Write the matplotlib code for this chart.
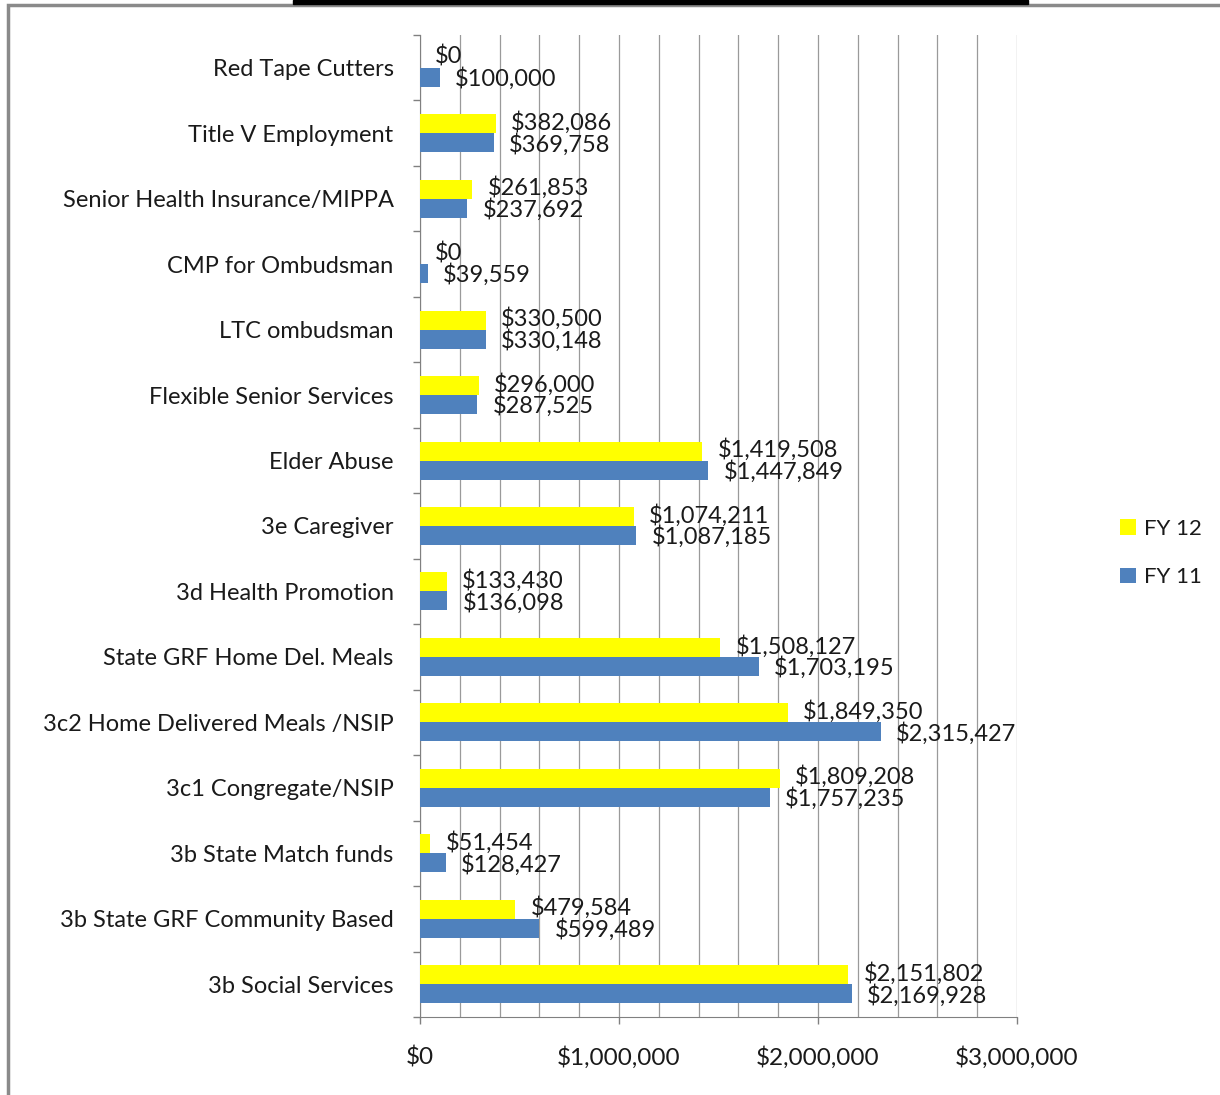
import numpy as np
import matplotlib
matplotlib.use('Agg')
import matplotlib.pyplot as plt
from matplotlib.patches import Rectangle
from matplotlib.ticker import FuncFormatter

categories = ['Red Tape Cutters', 'Title V Employment', 'Senior Health Insurance/MIPPA',
              'CMP for Ombudsman', 'LTC ombudsman', 'Flexible Senior Services',
              'Elder Abuse', '3e Caregiver', '3d Health Promotion',
              'State GRF Home Del. Meals', '3c2 Home Delivered Meals /NSIP',
              '3c1 Congregate/NSIP', '3b State Match funds',
              '3b State GRF Community Based', '3b Social Services']
fy12 = [0, 382086, 261853, 0, 330500, 296000, 1419508, 1074211, 133430,
        1508127, 1849350, 1809208, 51454, 479584, 2151802]
fy11 = [100000, 369758, 237692, 39559, 330148, 287525, 1447849, 1087185, 136098,
        1703195, 2315427, 1757235, 128427, 599489, 2169928]

plt.rcParams['font.family'] = ['Lato', 'DejaVu Sans']
plt.rcParams['text.color'] = '#1a1a1a'
fs = 17

fig = plt.figure(figsize=(12.2, 10.95), dpi=100)
ax = fig.add_axes([420/1220, 1 - 1017/1095, 597/1220, 982/1095])

y = np.arange(len(categories))
h = 0.29
ax.barh(y - h/2, fy12, height=h, color='#FFFF00', label='FY 12', zorder=3)
ax.barh(y + h/2, fy11, height=h, color='#4F81BD', label='FY 11', zorder=3)

# value labels next to each bar (a bit apart so the two rows don't collide)
for yi, v in zip(y, fy12):
    ax.annotate('${:,.0f}'.format(v), (v, yi - h/2), xytext=(11, 1),
                textcoords='offset points', va='center', ha='left', fontsize=17)
for yi, v in zip(y, fy11):
    ax.annotate('${:,.0f}'.format(v), (v, yi + h/2), xytext=(11, -1),
                textcoords='offset points', va='center', ha='left', fontsize=17)

ax.set_xlim(0, 3000000)
ax.set_ylim(len(categories) - 0.5, -0.5)
ax.set_xticks([0, 1000000, 2000000, 3000000])
ax.set_xticks(np.arange(0, 3000001, 200000), minor=True)
ax.xaxis.set_major_formatter(FuncFormatter(lambda v, p: '${:,.0f}'.format(v)))
ax.grid(axis='x', which='both', color='#9a9a9a', linewidth=0.9, zorder=0)
ax.tick_params(axis='x', which='major', length=5, width=1, color='#808080', pad=16,
               labelsize=17.5, labelcolor='#1a1a1a')
ax.tick_params(axis='x', which='minor', length=0)

ax.set_yticks(y)
ax.set_yticklabels(categories)
ax.set_yticks(np.arange(-0.5, len(categories)), minor=True)
ax.tick_params(axis='y', which='major', length=0, pad=19, labelsize=fs, labelcolor='#1a1a1a')
ax.tick_params(axis='y', which='minor', length=5, width=1, color='#808080')

for s in ['top', 'right']:
    ax.spines[s].set_visible(False)
for s in ['left', 'bottom']:
    ax.spines[s].set_color('#808080')

handles, labels = ax.get_legend_handles_labels()
fig.legend(handles, labels, loc='center left', bbox_to_anchor=(1100/1220, 1 - 553/1095),
           frameon=False, fontsize=16, handlelength=0.7, handleheight=0.7,
           handletextpad=0.4, labelspacing=1.3)

# outer frame and top black bar
fig.add_artist(Rectangle((8/1220, -0.01), 1.02, 1 - 5/1095 + 0.01, transform=fig.transFigure,
                         fill=False, edgecolor='#8a8a8a', linewidth=2.5))
fig.add_artist(Rectangle((293/1220, 1 - 4/1095), 735/1220, 4/1095, transform=fig.transFigure,
                         color='black'))

fig.savefig('out.png', dpi=100)
